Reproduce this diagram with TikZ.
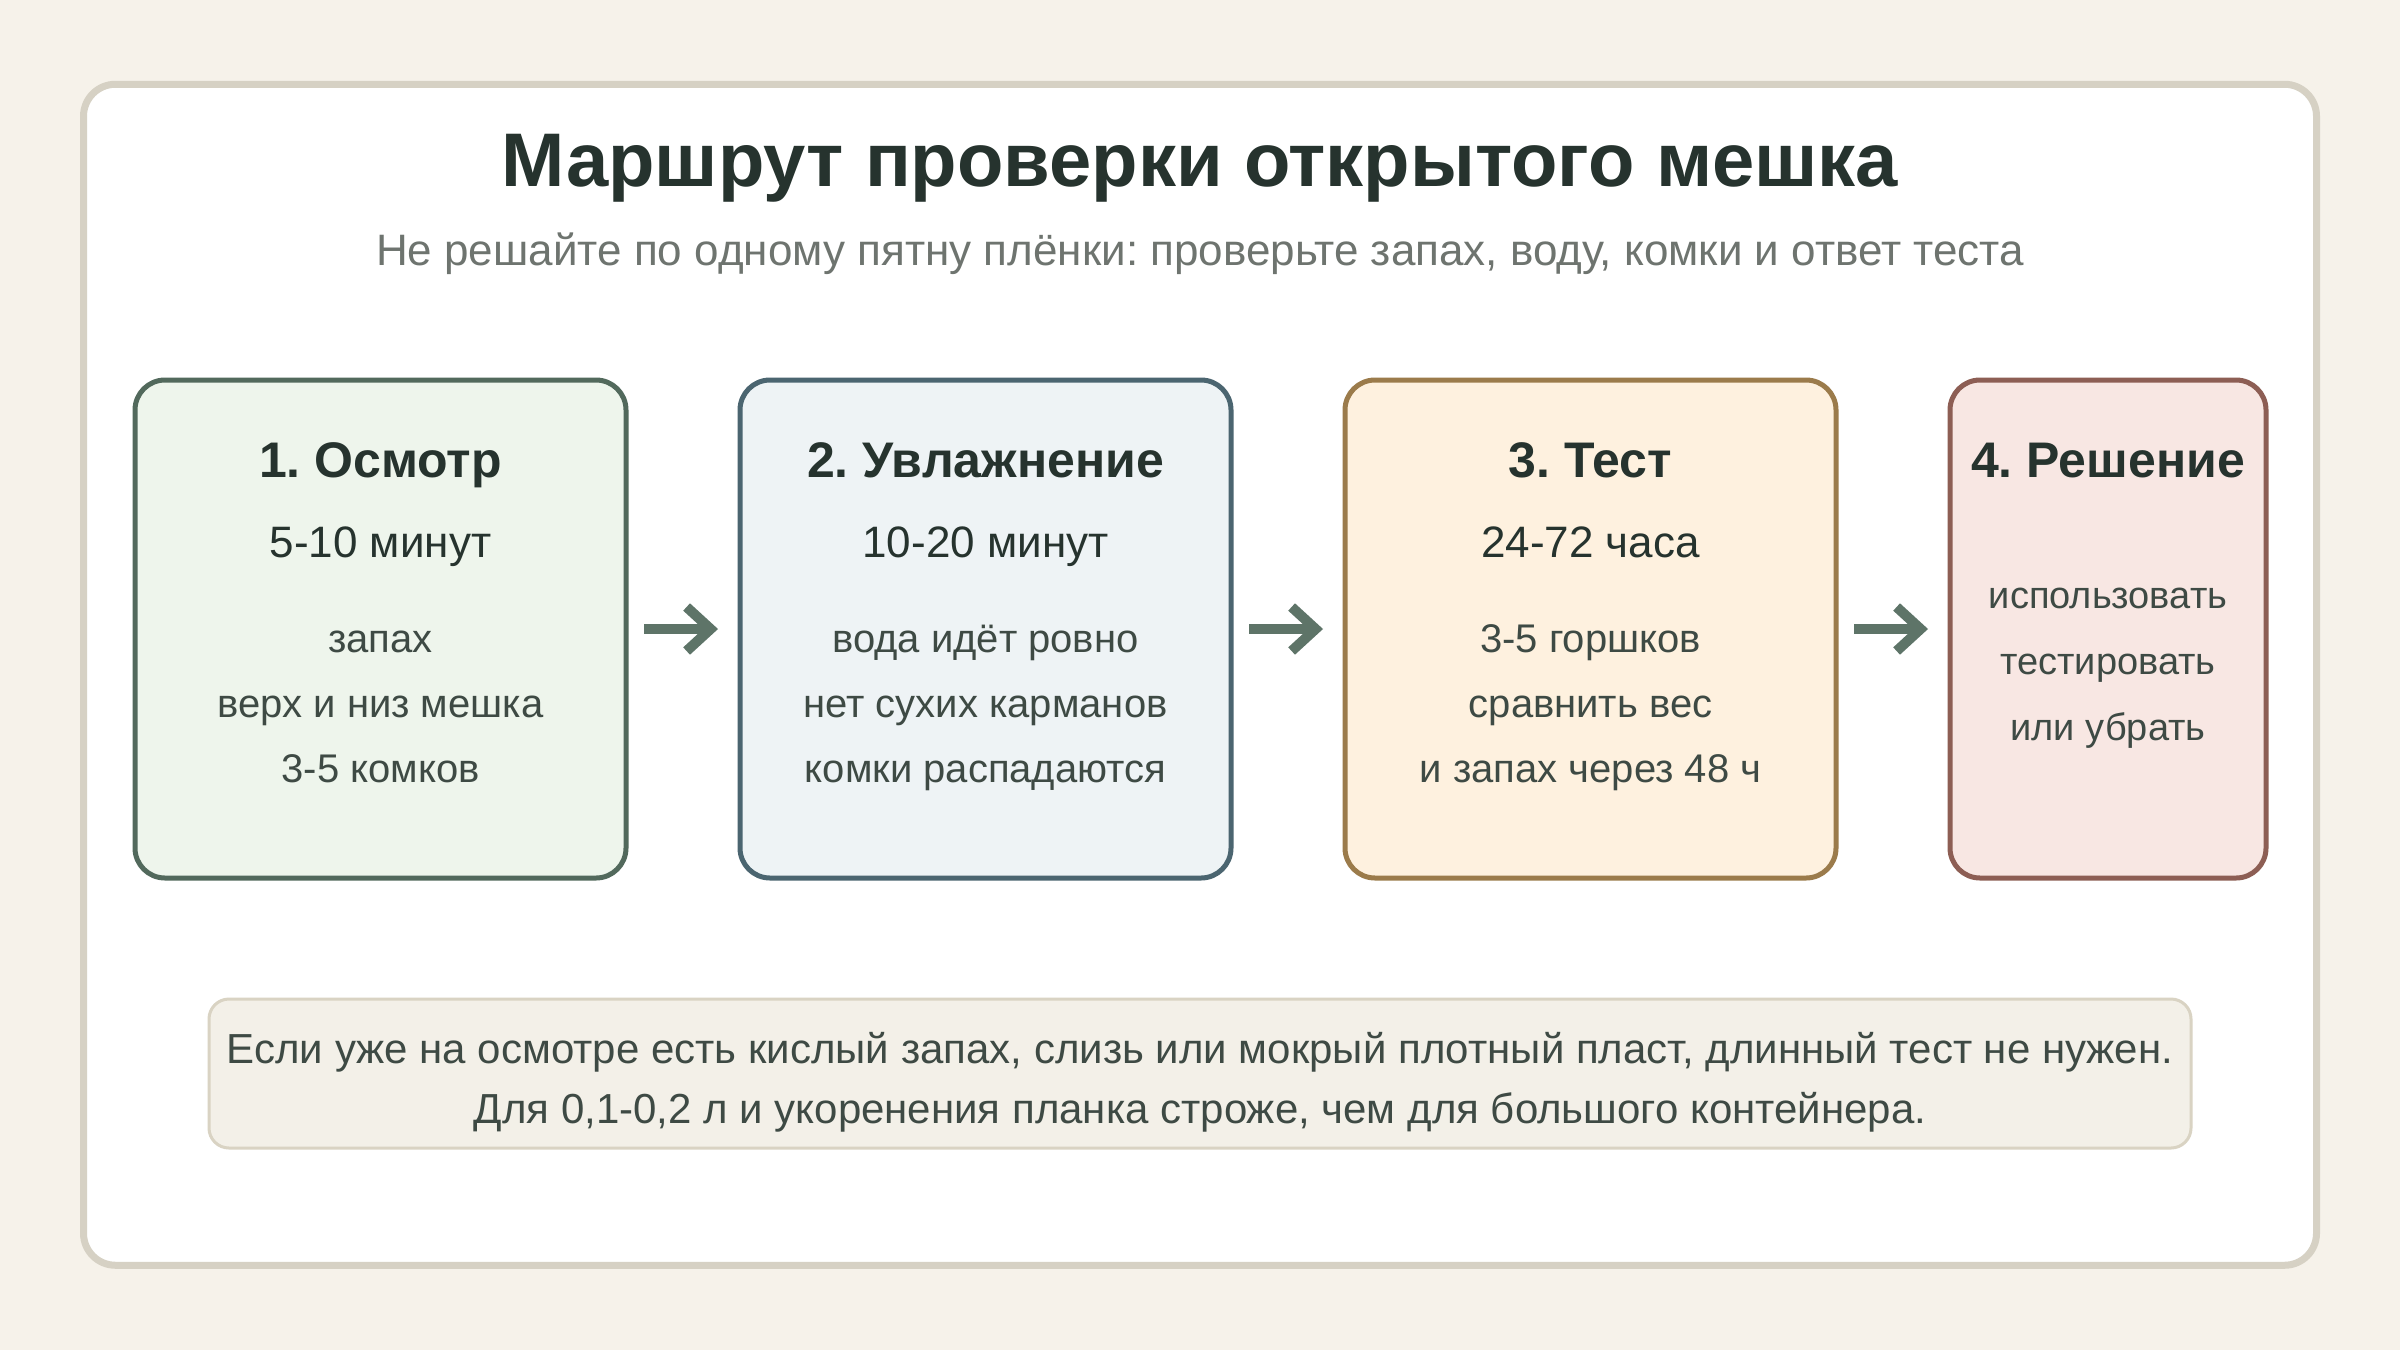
\documentclass[tikz,border=0pt]{standalone}
\usepackage{fontspec}
\setmainfont{Liberation Sans}
\usepackage{xcolor}
\usepackage{tikz}
\usetikzlibrary{positioning, arrows.meta, calc}
\frenchspacing

\definecolor{pagebg}{HTML}{F6F2EA}
\definecolor{cardline}{HTML}{D6D1C4}
\definecolor{titleink}{HTML}{26332E}
\definecolor{subink}{HTML}{6E746F}
\definecolor{bodyink}{HTML}{3E4A44}
\definecolor{arrowink}{HTML}{5E7468}
\definecolor{onefill}{HTML}{EEF5EC}
\definecolor{oneline}{HTML}{52695C}
\definecolor{twofill}{HTML}{EEF3F5}
\definecolor{twoline}{HTML}{4B6570}
\definecolor{threefill}{HTML}{FEF1DF}
\definecolor{threeline}{HTML}{9B7B4B}
\definecolor{fourfill}{HTML}{F8E7E3}
\definecolor{fourline}{HTML}{8D5E54}
\definecolor{notefill}{HTML}{F3F0E8}
\definecolor{noteline}{HTML}{D9D3C3}

\begin{document}
\begin{tikzpicture}[
    x=1pt, y=-1pt,
    node distance=114pt,
    stage/.style={rectangle, draw, line width=5pt, rounded corners=30pt, minimum width=491pt, minimum height=498pt, inner sep=0pt, outer sep=0pt},
    onebox/.style={stage, fill=onefill, draw=oneline},
    twobox/.style={stage, fill=twofill, draw=twoline},
    threebox/.style={stage, fill=threefill, draw=threeline},
    fourbox/.style={stage, fill=fourfill, draw=fourline, minimum width=316pt},
    head/.style={anchor=base, inner sep=0pt, text=titleink, font=\fontsize{50}{58}\selectfont\bfseries},
    span/.style={anchor=base, inner sep=0pt, text=titleink, font=\fontsize{44}{52}\selectfont},
    item/.style={anchor=base, inner sep=0pt, text=bodyink, font=\fontsize{40}{48}\selectfont},
    smallitem/.style={item, font=\fontsize{38}{46}\selectfont},
    notetext/.style={anchor=base, inner sep=0pt, text=bodyink, font=\fontsize{42}{50}\selectfont},
    arrow/.style={-{Straight Barb[length=24pt, width=44pt]}, line width=10pt, draw=arrowink, shorten <=18pt, shorten >=22pt}
]

% Background and card
\fill[pagebg] (0,0) rectangle (2400,1350);
\useasboundingbox (0,0) rectangle (2400,1350);
\node[draw=cardline, fill=white, line width=7pt, rounded corners=32pt, minimum width=2233pt, minimum height=1181pt, inner sep=0pt, outer sep=0pt] (card) at (1200,674.75) {};

% Title
\node[anchor=base, text=titleink, font=\fontsize{76}{86}\selectfont\bfseries] (title) at ($(card.north)+(0,102)$) {Маршрут проверки открытого мешка};
\node[anchor=base, text=subink, font=\fontsize{44}{52}\selectfont] (subtitle) at ($(card.north)+(0,181)$) {Не решайте по одному пятну плёнки: проверьте запах, воду, комки и ответ теста};

% Stages
\node[onebox] (inspect) at (380.5,629) {};
\node[twobox, right=of inspect] (soak) {};
\node[threebox, right=of soak] (trial) {};
\node[fourbox, right=of trial] (verdict) {};

% Stage texts
\node[head] (inspect_h) at ($(inspect.north)+(0,97)$) {1. Осмотр};
\node[span] (inspect_t) at ($(inspect.north)+(0,177)$) {5-10 минут};
\node[item] (inspect_a) at ($(inspect.north)+(0,272)$) {запах};
\node[item] (inspect_b) at ($(inspect.north)+(0,337)$) {верх и низ мешка};
\node[item] (inspect_c) at ($(inspect.north)+(0,402)$) {3-5 комков};

\node[head] (soak_h) at ($(soak.north)+(0,97)$) {2. Увлажнение};
\node[span] (soak_t) at ($(soak.north)+(0,177)$) {10-20 минут};
\node[item] (soak_a) at ($(soak.north)+(0,272)$) {вода идёт ровно};
\node[item] (soak_b) at ($(soak.north)+(0,337)$) {нет сухих карманов};
\node[item] (soak_c) at ($(soak.north)+(0,402)$) {комки распадаются};

\node[head] (trial_h) at ($(trial.north)+(0,97)$) {3. Тест};
\node[span] (trial_t) at ($(trial.north)+(0,177)$) {24-72 часа};
\node[item] (trial_a) at ($(trial.north)+(0,272)$) {3-5 горшков};
\node[item] (trial_b) at ($(trial.north)+(0,337)$) {сравнить вес};
\node[item] (trial_c) at ($(trial.north)+(0,402)$) {и запах через 48 ч};

\node[head] (verdict_h) at ($(verdict.north)+(0,97)$) {4. Решение};
\node[smallitem] (verdict_a) at ($(verdict.north)+(0,228)$) {использовать};
\node[smallitem] (verdict_b) at ($(verdict.north)+(0,294)$) {тестировать};
\node[smallitem] (verdict_c) at ($(verdict.north)+(0,360)$) {или убрать};

% Flow
\draw[arrow] (inspect) -- (soak);
\draw[arrow] (soak) -- (trial);
\draw[arrow] (trial) -- (verdict);

% Note
\node[draw=noteline, fill=notefill, line width=3pt, rounded corners=20pt, minimum width=1982pt, minimum height=149pt, inner sep=0pt, outer sep=0pt] (note) at (1200,1073.5) {};
\node[notetext] (note_a) at ($(note.north)+(0,64)$) {Если уже на осмотре есть кислый запах, слизь или мокрый плотный пласт, длинный тест не нужен.};
\node[notetext] (note_b) at ($(note.north)+(0,124)$) {Для 0,1-0,2 л и укоренения планка строже, чем для большого контейнера.};

\end{tikzpicture}
\end{document}
